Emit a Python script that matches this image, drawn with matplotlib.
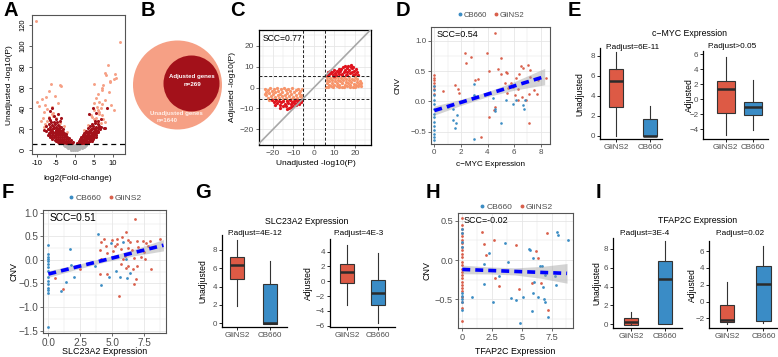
import numpy as np
import matplotlib
matplotlib.use('Agg')
import matplotlib.pyplot as plt
from matplotlib.patches import Circle
from matplotlib.lines import Line2D

plt.rcParams['font.family'] = ['Liberation Sans', 'DejaVu Sans']

# ---------------- DATA ----------------
# Panel A (volcano)
a_gray = [(-1.0,0.4),(-0.5,0.3),(0.0,0.2),(0.5,0.3),(1.0,0.5),(-1.8,1.5),(-1.2,1.4),(-0.6,1.3),(0.0,1.2),(0.6,1.4),(1.2,1.5),(1.8,1.6),
          (-2.2,2.6),(-1.6,2.5),(-1.0,2.4),(-0.4,2.3),(0.2,2.5),(0.8,2.4),(1.4,2.6),(2.0,2.5),(2.4,2.7),
          (-2.6,3.6),(-2.0,3.5),(-1.4,3.4),(-0.8,3.5),(-0.2,3.6),(0.4,3.5),(1.0,3.4),(1.6,3.6),(2.2,3.5),(2.7,3.7),
          (-3.0,4.6),(-2.4,4.5),(-1.8,4.7),(-1.2,4.5),(-0.6,4.6),(0.0,4.4),(0.6,4.6),(1.2,4.5),(1.8,4.7),(2.4,4.6),(3.0,4.5)]
a_dark = [(-2.4,6.3),(-1.9,6.8),(-1.4,6.2),(-0.9,6.6),(-0.6,7.4),(-3.1,6.5),(-3.6,7.0),(-4.2,6.4),
          (-5.1,8.2),(-4.6,7.9),(-4.0,8.4),(-3.4,8.0),(-2.9,8.5),(-2.4,7.9),(-1.9,8.8),(-1.4,8.3),(-1.1,9.6),
          (-6.0,10.3),(-5.4,9.8),(-4.9,10.5),(-4.4,10.0),(-3.9,10.6),(-3.3,9.9),(-2.8,10.4),(-2.3,10.9),(-1.8,10.2),(-1.5,11.5),
          (-6.6,12.4),(-6.1,12.0),(-5.5,12.6),(-4.9,12.1),(-4.4,12.7),(-3.9,12.2),(-3.4,12.8),(-2.9,12.3),(-2.4,13.0),(-2.0,12.5),
          (-7.1,14.3),(-6.5,14.8),(-6.0,14.1),(-5.4,14.6),(-4.9,14.2),(-4.4,14.9),(-3.9,14.4),(-3.4,15.0),(-2.9,14.5),(-2.5,15.2),
          (-7.0,16.4),(-6.4,16.9),(-5.9,16.2),(-5.3,16.8),(-4.8,16.3),(-4.3,17.0),(-3.8,16.5),(-3.2,17.2),(-2.8,16.6),
          (-7.6,18.3),(-6.6,18.8),(-6.0,18.2),(-5.1,18.9),(-4.5,18.4),(-3.9,19.0),(-3.3,18.5),
          (-7.1,20.5),(-6.1,20.1),(-5.5,20.8),(-4.8,20.2),(-4.1,21.0),(-3.1,20.4),
          (-6.6,22.4),(-5.8,22.9),(-5.0,22.3),(-4.3,23.0),(-3.6,22.5),
          (-7.0,24.6),(-6.0,24.2),(-5.3,25.0),(-4.6,24.4),(-6.3,26.5),(-5.5,27.2),(-4.8,26.4),
          (-6.6,28.8),(-5.0,29.5),(-4.0,28.0),(-5.5,33.0),(-6.5,37.0),(-7.0,30.5),(-4.5,35.0),(-6.0,40.5),(-3.8,31.0),(-7.8,23.5),(-8.2,19.0),
          (0.6,6.4),(1.0,6.9),(1.5,6.2),(2.0,6.7),(2.5,6.3),(3.0,6.8),(3.5,6.4),
          (1.0,8.6),(1.5,8.1),(2.0,8.8),(2.5,8.2),(3.0,8.7),(3.5,8.1),(4.0,8.6),(4.5,8.3),
          (1.3,10.4),(1.8,10.0),(2.3,10.7),(2.8,10.2),(3.3,10.8),(3.8,10.1),(4.3,10.6),(4.8,10.2),
          (1.6,12.3),(2.0,12.7),(2.5,12.1),(3.0,12.8),(3.5,12.2),(4.0,12.9),(4.5,12.4),(5.0,12.8),(5.5,12.2),
          (2.2,14.5),(2.7,14.1),(3.2,14.7),(3.7,14.2),(4.2,14.8),(4.7,14.3),(5.2,14.9),(5.7,14.4),
          (2.5,16.4),(3.0,16.9),(3.6,16.2),(4.1,16.8),(4.6,16.3),(5.1,17.0),(5.6,16.5),(6.1,17.1),
          (3.0,18.6),(3.8,18.2),(4.4,18.9),(5.0,18.3),(5.6,19.0),(6.2,18.5),
          (3.5,20.7),(4.2,20.2),(4.8,21.0),(5.4,20.4),(6.0,21.1),(6.6,20.5),
          (4.0,22.6),(4.8,23.1),(5.6,22.5),(6.3,23.2),(7.0,22.4),(4.5,25.0),(5.3,25.6),(6.0,24.8),
          (5.2,28.2),(6.0,27.5),(7.6,21.5),(8.1,21.0),(4.8,40.5),(5.5,36.0),(8.5,40.0),(3.8,35.0),(6.8,30.0)]
a_salmon = [(-10.4,124.5),(12.1,104.0),(8.9,82.0),(8.0,74.0),(8.3,72.0),(10.7,73.0),(10.3,68.5),(9.2,65.0),(5.0,63.5),(7.5,62.5),
            (7.3,60.0),(7.1,57.5),(6.2,54.0),(11.0,69.0),(9.4,66.0),(-6.3,63.0),(-3.9,62.5),(-3.6,61.5),(-7.0,57.0),(-10.2,46.0),
            (-8.7,49.0),(-7.8,50.5),(-7.9,43.5),(-7.3,39.5),(-8.3,36.5),(-6.1,41.0),(-5.8,36.0),(-5.7,33.0),(5.5,49.5),(6.4,46.0),
            (5.9,41.0),(5.0,38.0),(6.5,36.5),(4.2,33.5),(5.0,30.0),(5.9,27.0),(7.3,44.5),(8.1,48.0),(9.0,55.5),(-8.0,25.0),
            (-7.5,28.0),(-6.8,32.0),(-7.2,20.0),(-8.3,22.0),(-5.0,30.5),(-6.0,34.5),(-4.0,25.5),(-3.0,23.0),(-9.0,28.0),(-8.5,31.0),
            (-2.0,17.0),(5.5,30.5),(6.3,35.0),(6.0,38.5),(7.0,40.0),(5.0,45.0),(6.2,28.0),(6.8,26.0),(4.5,32.0),(7.5,30.0),
            (8.0,26.5),(3.5,24.0),(2.5,19.0),(7.2,33.5),(9.5,43.0),(10.5,38.0),(-4.5,45.0),(-5.3,52.0),(-9.5,42.0)]
a_threshold = 5.5

# Panel B (Venn)
b_adjusted_n = 269
b_unadjusted_n = 1640

# Panel C
c_up_salmon = [(6.0,0.4),(6.2,2.0),(6.5,3.8),(6.3,5.0),(7.2,1.1),(7.5,2.9),(7.8,4.5),(8.4,0.6),(8.7,2.2),(8.9,3.6),(9.1,5.1),
               (9.8,1.4),(10.1,3.0),(10.3,4.4),(11.0,0.5),(11.3,2.2),(11.5,3.7),(11.8,5.2),(12.4,1.2),(12.7,2.9),(13.0,4.6),
               (13.6,0.4),(13.9,2.1),(14.2,3.5),(14.5,5.0),(15.1,1.3),(15.4,2.8),(15.7,4.3),(16.3,0.6),(16.6,2.0),(16.9,3.6),
               (17.2,5.1),(17.8,1.1),(18.1,2.7),(18.4,4.2),(19.0,0.4),(19.3,1.9),(19.6,3.4),(19.9,4.8),(20.5,1.2),(20.8,2.6),
               (21.1,4.0),(21.7,0.5),(22.0,1.8),(22.3,3.0),(22.8,0.9),(23.0,2.0),(6.8,0.2),(9.4,0.1),(12.0,0.2),(14.8,0.1),
               (17.5,0.2),(20.2,0.1)]
c_up_red = [(6.2,6.0),(6.8,7.2),(7.3,6.3),(7.9,8.0),(8.4,6.8),(8.8,7.6),(9.3,6.1),(9.7,8.5),(10.2,7.0),(10.6,6.2),(11.1,8.1),
            (11.5,7.3),(12.0,9.0),(12.4,6.6),(12.9,7.8),(13.3,8.8),(13.8,6.4),(14.2,9.6),(14.6,7.4),(15.0,8.3),(15.5,6.2),
            (15.9,9.2),(16.3,7.6),(16.8,10.1),(17.2,8.5),(17.6,6.9),(18.0,10.8),(18.3,9.1),(18.7,7.3),(19.1,9.8),(19.5,8.0),
            (20.0,6.5),(20.4,8.7),(20.9,7.2),(21.3,6.1),(7.0,5.8),(10.0,5.7),(13.5,5.9),(16.0,5.8),(19.0,5.9),(17.9,9.6),(15.3,10.2)]
c_low_salmon = [(-23.8,-0.5),(-23.5,-2.0),(-23.2,-3.6),(-22.6,-1.2),(-22.3,-4.8),(-21.9,-2.7),(-21.4,-0.4),(-21.1,-4.0),
                (-20.7,-1.9),(-20.3,-5.3),(-19.9,-3.2),(-19.5,-0.8),(-19.2,-4.5),(-18.8,-2.3),(-18.4,-5.8),(-18.0,-0.3),
                (-17.7,-3.8),(-17.3,-1.5),(-16.9,-5.0),(-16.5,-2.9),(-16.1,-0.6),(-15.8,-4.3),(-15.4,-2.0),(-15.0,-5.6),
                (-14.6,-0.3),(-14.2,-3.4),(-13.8,-1.4),(-13.4,-4.8),(-13.0,-2.6),(-12.6,-0.7),(-12.2,-4.0),(-11.8,-1.9),
                (-11.4,-5.3),(-11.0,-3.1),(-10.6,-0.4),(-10.2,-4.5),(-9.8,-2.2),(-9.4,-5.7),(-9.0,-1.0),(-8.6,-3.6),
                (-8.2,-5.0),(-7.8,-0.5),(-7.4,-2.7),(-7.0,-4.3),(-6.6,-1.6),(-6.2,-3.5),(-5.9,-0.6),(-5.8,-5.0),
                (-24.0,-3.0),(-22.0,-6.2),(-19.0,-6.5),(-16.0,-6.8),(-13.0,-6.0)]
c_low_red = [(-20.5,-6.2),(-19.6,-7.0),(-18.5,-6.0),(-17.8,-7.5),(-17.0,-6.4),(-16.5,-8.2),(-15.9,-7.0),(-15.3,-9.0),
             (-14.9,-6.3),(-14.3,-7.8),(-13.8,-8.8),(-13.3,-6.6),(-12.8,-7.4),(-12.3,-9.6),(-11.9,-6.1),(-11.4,-8.0),
             (-10.9,-7.0),(-10.4,-8.7),(-9.9,-6.4),(-9.5,-7.6),(-9.0,-8.4),(-8.6,-6.2),(-8.1,-7.2),(-7.6,-6.6),
             (-7.1,-7.8),(-6.7,-6.0),(-6.2,-6.8),(-5.8,-5.8),(-16.8,-10.0),(-13.0,-10.2),(-11.0,-9.2),(-18.9,-8.3)]
c_threshold = 5.5
c_scc = "SCC=0.77"

# Panel D (c-MYC)
d_cb = [(0,0.25),(0,0.19),(0,0.10),(0,0.03),(0,-0.04),(0,-0.12),(0,-0.20),(0,-0.26),(0,-0.34),(0,-0.41),(0,-0.47),(0,-0.54),
        (0,-0.59),(0,-0.64),(1.0,-0.09),(1.4,-0.13),(1.38,-0.31),(1.63,-0.35),(1.55,-0.43),(1.72,-0.22),(2.95,0.29),(2.98,0.10),
        (2.98,-0.61),(4.43,0.06),(4.55,-0.12),(4.6,-0.15),(5.05,-0.36),(5.38,0.02),(5.93,-0.04),(6.68,-0.06),(6.72,-0.12),
        (6.8,0.02),(6.18,0.02)]
d_gl = [(0,0.43),(0,0.39),(0,0.35),(0,0.31),(0,0.25),(0,0.20),(0,0.13),(0.68,0.18),(2.3,0.79),(2.35,0.64),(2.78,0.74),
        (1.55,0.27),(1.8,0.20),(1.85,0.14),(3.05,0.35),(3.3,0.37),(3.98,0.79),(4.6,1.13),(4.1,0.50),(4.8,0.53),(4.98,0.46),
        (5.05,0.71),(5.4,0.49),(5.5,0.47),(5.28,0.30),(5.55,0.23),(5.8,0.31),(6.18,0.38),(6.38,0.45),(6.55,0.59),(6.68,0.55),
        (7.05,0.60),(7.2,0.52),(7.2,0.41),(6.72,0.32),(6.3,0.20),(6.1,0.10),(6.9,0.02),(7.1,0.12),(7.5,0.19),(7.75,0.13),
        (7.8,0.35),(8.4,0.38),(7.1,-0.35),(4.6,-0.09),(4.1,-0.25),(4.5,-0.14),(3.5,-0.58),(5.48,0.14),(5.9,0.24),(6.3,0.02),(6.6,0.07)]
d_fit_x = [0, 2, 4, 6, 8.3]
d_fit_y = [-0.15, -0.015, 0.12, 0.255, 0.41]
d_fit_se = [0.075, 0.05, 0.04, 0.07, 0.135]
d_scc = "SCC=0.54"

# Panel F (SLC23A2)
f_cb = [(0,0.31),(0,0.13),(0,0.07),(0,0.02),(0,-0.03),(0,-0.09),(0,-0.16),(0,-0.23),(0,-0.36),(0,-0.44),(0,-0.51),(0,-0.59),
        (0,-0.64),(0,-0.71),(0,-1.42),(1.66,0.22),(1.39,-0.46),(1.0,-0.66),(1.79,-0.10),(2.03,-0.36),(3.68,-0.12),(3.87,0.54),
        (4.13,-0.54),(4.74,-0.37),(4.87,0.36),(5.26,-0.24),(5.6,-0.36),(5.87,0.37),(6.1,0.02),(6.18,-0.39),(6.4,-0.28)]
f_gl = [(0.53,-0.39),(1.13,-0.62),(2.5,-0.19),(4.0,0.20),(4.08,0.38),(4.34,0.45),(4.47,0.29),(4.55,0.14),(4.08,0.02),
        (4.03,-0.30),(4.95,0.43),(5.08,0.18),(5.34,0.45),(5.4,0.34),(6.05,0.60),(5.66,0.24),(5.74,0.49),(5.82,0.02),
        (5.97,0.09),(6.26,0.43),(6.4,0.38),(6.53,0.20),(6.66,0.04),(6.74,0.87),(6.9,0.40),(7.03,0.27),(7.18,0.21),
        (7.24,0.06),(7.37,0.41),(7.45,0.16),(7.58,0.02),(7.76,0.29),(7.97,0.40),(8.03,0.26),(8.76,0.45),(8.03,-0.19),
        (6.58,-0.19),(6.84,-0.41),(6.71,-0.51),(5.53,-0.77),(5.66,-0.09),(6.05,-0.18),(6.26,-0.12),(6.97,-0.12),(4.6,-0.29),
        (5.2,0.30),(6.2,0.25),(7.6,0.35)]
f_fit_x = [0, 2.25, 4.5, 6.75, 9]
f_fit_y = [-0.30, -0.147, 0.005, 0.158, 0.31]
f_fit_se = [0.07, 0.05, 0.045, 0.07, 0.12]
f_scc = "SCC=0.51"

# Panel H (TFAP2C)
h_gl = [(0,0.53),(0,0.44),(0,0.39),(0,0.34),(0,0.30),(0,0.25),(0,0.21),(0,0.17),(0,0.13),(0,0.08),(0,0.04),(0,-0.02),
        (0,-0.06),(0,-0.11),(0,-0.15),(0,-0.19),(0,-0.23),(0,-0.28),(0,-0.32),(0,-0.36),(0,-0.40),(0,-0.47),(0,-0.53),
        (0,-0.61),(0,-0.78),(1.69,0.36),(1.83,0.20),(1.97,0.06),(2.67,0.26),(2.72,-0.23),(3.06,-0.33),(4.53,0.19),
        (4.8,-0.37),(5.86,-0.29),(6.19,0.12),(6.33,0.03),(6.6,-0.29),(7.1,0.34),(7.19,-0.64)]
h_cb = [(0,0.40),(0,0.34),(0,0.23),(0,0.17),(0,-0.42),(0,-0.46),(0,-0.49),(0,-0.53),(0,-0.64),(0.78,-0.47),(1.83,-0.05),
        (1.83,-0.31),(2.25,0.09),(2.58,-0.54),(3.08,-0.20),(3.56,0.22),(3.83,-0.02),(4.11,-0.48),(4.53,-0.51),(4.86,-0.80),
        (5.08,-0.47),(5.64,0.14),(5.72,0.13),(5.86,-0.65),(5.92,0.03),(5.97,-0.42),(6.06,-0.28),(6.33,-0.47),(6.56,-0.08),
        (6.69,-0.08),(6.75,-0.34),(6.89,-0.49),(6.94,-0.54),(6.92,-0.19),(7.17,-0.73),(7.78,-0.20),(7.86,-0.32),(7.94,0.35),
        (8.0,0.32),(8.89,0.26)]
h_fit_x = [0, 2.2, 4.4, 6.6, 8.8]
h_fit_y = [-0.12, -0.1325, -0.145, -0.1575, -0.17]
h_fit_se = [0.055, 0.045, 0.045, 0.075, 0.125]
h_scc = "SCC=-0.02"

# Box plot summaries: [lower whisker, Q1, median, Q3, upper whisker]
groups = ['GliNS2', 'CB660']
e_unadj = [[0.0, 2.93, 5.5, 6.67, 8.4], [0.0, 0.0, 0.0, 1.7, 3.0]]
e_adj = [[-4.8, -1.86, 1.42, 2.39, 5.58], [-4.04, -2.08, -0.97, -0.31, 2.6]]
g_unadj = [[1.93, 4.87, 6.36, 7.16, 9.1], [0.0, -0.07, 0.07, 4.29, 6.73]]
g_adj = [[-3.2, -0.28, 1.3, 2.29, 4.9], [-5.68, -3.2, -1.63, 0.17, 3.77]]
i_unadj = [[0.0, -0.07, 0.28, 0.64, 1.27], [0.0, 0.0, 4.8, 6.71, 8.83]]
i_adj = [[-2.66, -2.38, -2.18, -0.4, 2.38], [-2.58, -2.26, 2.1, 4.25, 6.63]]

# ---------------- STYLE ----------------
W, H = 778, 357
fig = plt.figure(figsize=(W / 100, H / 100), dpi=100)

RED_PT = '#D9604C'
BLUE_PT = '#3C8DC4'
RED_BOX = '#DD5A45'
BLUE_BOX = '#3A8CC6'
DARKRED = '#A3111A'
SALMON = '#F6A085'
C_SALMON = '#F7956B'
C_RED = '#E0141E'
GRID = '#E6E6E6'
TXT = '#4D4D4D'


def ax_px(l, t, r, b):
    return fig.add_axes([l / W, 1 - b / H, (r - l) / W, (b - t) / H])


def ftext(x, y, s, **kw):
    return fig.text(x / W, 1 - y / H, s, **kw)


def xy(pairs):
    arr = np.array(pairs, dtype=float)
    return arr[:, 0], arr[:, 1]


def letter(x, y, s):
    ftext(x, y, s, fontsize=14.5, fontweight='bold', ha='center', va='center')


# ---------------- PANEL A ----------------
ax = ax_px(32, 15, 125, 154)
gx, gy = xy(a_gray)
ax.scatter(gx, gy, s=5, color='#B5B5B5', lw=0)
sx, sy = xy(a_salmon)
ax.scatter(sx, sy, s=4.5, color=SALMON, lw=0)
dx, dy = xy(a_dark)
ax.scatter(dx, dy, s=5, color=DARKRED, lw=0)
ax.axhline(a_threshold, color='black', lw=0.9, ls=(0, (4, 3)))
ax.set_xlim(-11.4, 13.3)
ax.set_ylim(-3.9, 129.8)
ax.set_xticks([-10, -5, 0, 5, 10])
ax.set_xticklabels(['-10', '-5', '0', '5', '10'])
ax.set_yticks([0, 20, 40, 60, 80, 100, 120])
ax.tick_params(length=2.5, width=0.6, labelsize=5.4, pad=1.5, color='#444')
ax.tick_params(axis='y', labelrotation=90)
for t in ax.get_yticklabels():
    t.set_va('center')
for s in ax.spines.values():
    s.set_color('#555')
    s.set_linewidth(0.8)
ftext(10, 85, 'Unadjusted -log10(P)', fontsize=6, rotation=90, ha='center', va='center')
ftext(78, 178, 'log2(Fold-change)', fontsize=6, ha='center', va='center')
letter(11, 11, 'A')

# ---------------- PANEL B ----------------
axb = ax_px(128, 20, 240, 150)
axb.set_xlim(128, 240)
axb.set_ylim(150, 20)
axb.axis('off')
axb.add_patch(Circle((177.5, 85), 44.5, fc=SALMON, ec='none'))
axb.add_patch(Circle((191.5, 83.5), 28, fc=DARKRED, ec='none'))
axb.text(192, 76.5, 'Adjusted genes', color='white', fontsize=4.4, fontweight='bold', ha='center', va='center')
axb.text(192, 84, f'n={b_adjusted_n}', color='white', fontsize=4.4, fontweight='bold', ha='center', va='center')
axb.text(176, 113, 'Unadjusted genes', color='#FFF0EA', fontsize=4.4, fontweight='bold', ha='center', va='center')
axb.text(167, 120, f'n={b_unadjusted_n}', color='#FFF0EA', fontsize=4.4, fontweight='bold', ha='center', va='center')
letter(148, 11, 'B')


def gg_grid(ax, xmaj, xmin, ymaj, ymin):
    for v in xmaj:
        ax.axvline(v, color=GRID, lw=0.6, zorder=0)
    for v in xmin:
        ax.axvline(v, color=GRID, lw=0.35, zorder=0)
    for v in ymaj:
        ax.axhline(v, color=GRID, lw=0.6, zorder=0)
    for v in ymin:
        ax.axhline(v, color=GRID, lw=0.35, zorder=0)


# ---------------- PANEL C ----------------
ax = ax_px(259, 30, 371, 145)
ax.set_xlim(-26.8, 27.8)
ax.set_ylim(-27.5, 27.5)
gg_grid(ax, [-20, -10, 0, 10, 20], [-25, -15, -5, 5, 15, 25], [-20, -10, 0, 10, 20], [-25, -15, -5, 5, 15, 25])
for pts, col in [(c_low_salmon, C_SALMON), (c_up_salmon, C_SALMON), (c_low_red, C_RED), (c_up_red, C_RED)]:
    px_, py_ = xy(pts)
    ax.scatter(px_, py_, s=5.5, color=col, lw=0, zorder=2)
ax.axline((0, 0), slope=1, color='#A8A8A8', lw=1.2, zorder=3)
for v in (-c_threshold, c_threshold):
    ax.axvline(v, color='#222', lw=0.7, ls=(0, (3, 2)), zorder=4)
    ax.axhline(v, color='#222', lw=0.7, ls=(0, (3, 2)), zorder=4)
ax.set_xticks([-20, -10, 0, 10, 20])
ax.set_yticks([-20, -10, 0, 10, 20])
ax.tick_params(length=2, width=0.5, labelsize=6, pad=1.5, color='#333', labelcolor=TXT)
for s in ax.spines.values():
    s.set_color('black')
    s.set_linewidth(0.9)
ax.text(0.03, 0.965, c_scc, transform=ax.transAxes, fontsize=6.2, ha='left', va='top', zorder=5)
ftext(233, 87, 'Adjusted -log10(P)', fontsize=6, rotation=90, ha='center', va='center')
ftext(316, 164, 'Unadjusted -log10(P)', fontsize=6, ha='center', va='center')
letter(237, 11, 'C')


# ---------------- SCATTER PANELS ----------------
def scatter_panel(l, t, r, b, xlim, ylim, xt, xtl, yt, ytl, xminor, yminor, cb, gl, fx, fy, fse,
                  scc, tick_fs, lab_fs, scc_fs, xlab, ylab_x, xlab_y, leg_y, ms):
    ax = ax_px(l, t, r, b)
    ax.set_xlim(*xlim)
    ax.set_ylim(*ylim)
    gg_grid(ax, xt, xminor, yt, yminor)
    cx, cy = xy(cb)
    gx_, gy_ = xy(gl)
    ax.scatter(gx_, gy_, s=ms, color=RED_PT, lw=0, zorder=2)
    ax.scatter(cx, cy, s=ms, color=BLUE_PT, lw=0, zorder=2)
    fx = np.array(fx)
    fy = np.array(fy)
    fse = np.array(fse)
    ax.fill_between(fx, fy - fse, fy + fse, color='#A0A0A0', alpha=0.45, lw=0, zorder=3)
    ax.plot(fx, fy, color='#0000FF', lw=2.6, ls=(0, (2.2, 1.4)), zorder=4, solid_capstyle='butt')
    ax.set_xticks(xt)
    ax.set_xticklabels(xtl)
    ax.set_yticks(yt)
    ax.set_yticklabels(ytl)
    ax.tick_params(length=2, width=0.5, labelsize=tick_fs, pad=1.5, color='#333', labelcolor=TXT)
    for s in ax.spines.values():
        s.set_color('#555')
        s.set_linewidth(0.8)
    ax.text(0.05, 0.975, scc, transform=ax.transAxes, fontsize=scc_fs, ha='left', va='top', zorder=5)
    ftext(ylab_x, (t + b) / 2, 'CNV', fontsize=lab_fs, rotation=90, ha='center', va='center')
    ftext((l + r) / 2, xlab_y, xlab, fontsize=lab_fs, ha='center', va='center')
    handles = [Line2D([], [], marker='o', ls='', color=BLUE_PT, markersize=1.8, label='CB660'),
               Line2D([], [], marker='o', ls='', color=RED_PT, markersize=1.8, label='GliNS2')]
    leg = fig.legend(handles=handles, loc='center', bbox_to_anchor=((l + r) / 2 / W, 1 - leg_y / H), ncol=2,
                     frameon=False, fontsize=lab_fs - 0.3, handletextpad=0.0, columnspacing=0.6,
                     handlelength=1.0, borderpad=0)
    for txt in leg.get_texts():
        txt.set_color(TXT)
    return ax


scatter_panel(431, 27, 550, 144, (-0.25, 8.7), (-0.70, 1.226),
              [0, 2, 4, 6, 8], ['0', '2', '4', '6', '8'], [-0.5, 0.0, 0.5, 1.0], ['\u22120.5', '0.0', '0.5', '1.0'],
              [1, 3, 5, 7], [-0.25, 0.25, 0.75], d_cb, d_gl, d_fit_x, d_fit_y, d_fit_se,
              d_scc, 5.8, 5.9, 6.5, 'c\u2212MYC Expression', 398, 165, 15, 3.5)
letter(403, 11, 'D')

scatter_panel(43, 210, 166, 333, (-0.42, 9.2), (-1.55, 1.057),
              [0, 2.5, 5, 7.5], ['0.0', '2.5', '5.0', '7.5'], [-1.5, -1.0, -0.5, 0.0, 0.5, 1.0],
              ['\u22121.5', '\u22121.0', '\u22120.5', '0.0', '0.5', '1.0'],
              [1.25, 3.75, 6.25, 8.75], [-1.25, -0.75, -0.25, 0.25, 0.75], f_cb, f_gl, f_fit_x, f_fit_y, f_fit_se,
              f_scc, 7.2, 6.4, 7.3, 'SLC23A2 Expression', 14, 352, 198, 4)
letter(8, 192, 'F')

scatter_panel(458, 213, 573, 328, (-0.36, 9.3), (-0.865, 0.598),
              [0, 2.5, 5, 7.5], ['0', '2.5', '5', '7.5'], [-0.5, 0.0, 0.5], ['\u22120.5', '0.0', '0.5'],
              [1.25, 3.75, 6.25, 8.75], [-0.75, -0.25, 0.25], h_cb, h_gl, h_fit_x, h_fit_y, h_fit_se,
              h_scc, 6.6, 6.4, 6.4, 'TFAP2C Expression', 427, 352, 207, 4)
letter(433, 193, 'H')


# ---------------- BOX PANELS ----------------
def box_panel(l, t, r, b, xlim, ylim, yt, width, stats, ylab, ylab_x):
    ax = ax_px(l, t, r, b)
    st = [dict(whislo=s[0], q1=s[1], med=s[2], q3=s[3], whishi=s[4], label=g) for s, g in zip(stats, groups)]
    bp = ax.bxp(st, positions=[1, 2], widths=width, patch_artist=True, showfliers=False, showcaps=False,
                boxprops=dict(edgecolor='#333333', linewidth=0.8),
                whiskerprops=dict(color='#333333', linewidth=0.8),
                medianprops=dict(color='#2B2B2B', linewidth=1.8, solid_capstyle='butt'))
    for patch, c in zip(bp['boxes'], [RED_BOX, BLUE_BOX]):
        patch.set_facecolor(c)
    ax.set_xlim(*xlim)
    ax.set_ylim(*ylim)
    ax.set_yticks(yt)
    ax.set_yticklabels([str(v).replace('-', '\u2212') for v in yt])
    ax.set_xticks([1, 2])
    ax.set_xticklabels(groups)
    for side in ('top', 'right'):
        ax.spines[side].set_visible(False)
    for side in ('left', 'bottom'):
        ax.spines[side].set_color('black')
        ax.spines[side].set_linewidth(0.9)
    ax.tick_params(length=2, width=0.6, labelsize=5.8, pad=1.5, color='black', labelcolor=TXT)
    ftext(ylab_x, (t + b) / 2, ylab, fontsize=6.2, rotation=90, ha='center', va='center')
    return ax


# E
box_panel(600, 48.3, 662, 139.3, (0.53, 2.35), (-0.35, 8.77), [0, 2, 4, 6, 8], 0.42, e_unadj, 'Unadjusted', 580)
box_panel(703.3, 50.7, 768.3, 139.3, (0.18, 2.55), (-5.33, 6.46), [-4, -2, 0, 2, 4, 6], 0.65, e_adj, 'Adjusted', 689)
ftext(690, 34, 'c\u2212MYC Expression', fontsize=6.3, ha='center', va='center')
ftext(632, 47.5, 'P.adjust=6E-11', fontsize=5.9, ha='center', va='center')
ftext(732, 47, 'P.adjust>0.05', fontsize=5.9, ha='center', va='center')
letter(574, 11, 'E')

# G
box_panel(222, 235, 286.7, 326.7, (0.545, 2.5), (-0.37, 9.6), [0, 2, 4, 6, 8], 0.42, g_unadj, 'Unadjusted', 203)
box_panel(330, 239.3, 395, 326.7, (0.45, 2.55), (-6.14, 5.67), [-6, -4, -2, 0, 2, 4], 0.45, g_adj, 'Adjusted', 308)
ftext(307, 221.7, 'SLC23A2 Expression', fontsize=6.3, ha='center', va='center')
ftext(255, 233.3, 'P.adjust=4E-12', fontsize=5.9, ha='center', va='center')
ftext(358, 233.3, 'P.adjust=4E-3', fontsize=5.9, ha='center', va='center')
letter(203, 193, 'G')

# I
box_panel(613.3, 238.3, 681.7, 328.3, (0.48, 2.49), (-0.42, 9.1), [0, 2, 4, 6, 8], 0.42, i_unadj, 'Unadjusted', 597)
box_panel(709.3, 241, 778, 328.3, (0.51, 2.4), (-3.17, 7.2), [-2, 0, 2, 4, 6], 0.39, i_adj, 'Adjusted', 692)
ftext(698, 220.7, 'TFAP2C Expression', fontsize=6.3, ha='center', va='center')
ftext(645, 233.3, 'P.adjust=3E-4', fontsize=5.9, ha='center', va='center')
ftext(740, 233.3, 'P.adjust=0.02', fontsize=5.9, ha='center', va='center')
letter(598, 192, 'I')

fig.savefig('out.png', dpi=100)
